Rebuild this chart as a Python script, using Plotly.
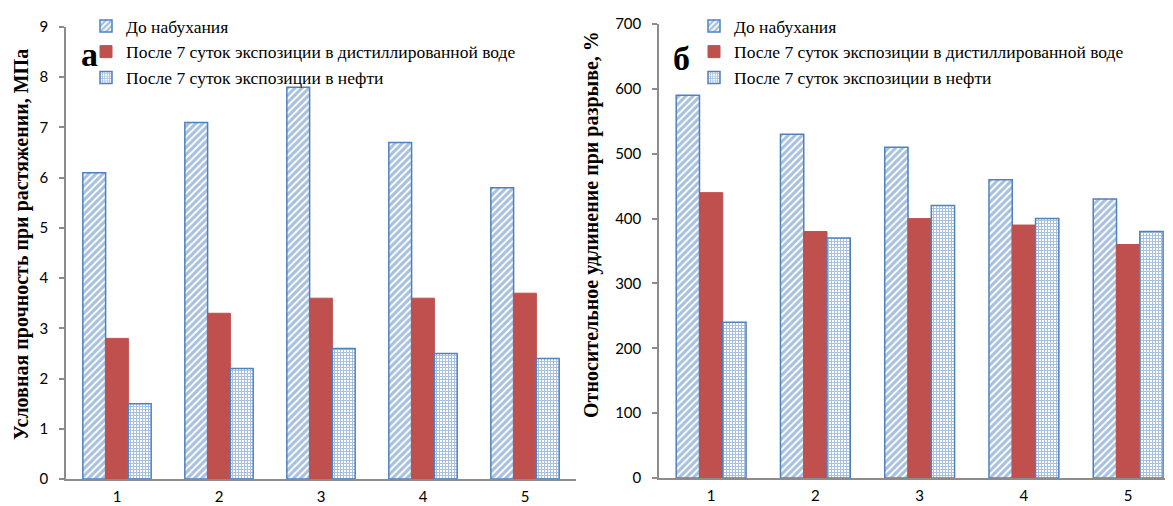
import plotly.graph_objects as go

categories = ["1", "2", "3", "4", "5"]
series_names = [
    "До набухания",
    "После 7 суток экспозиции в дистиллированной воде",
    "После 7 суток экспозиции в нефти",
]
strength_before = [6.1, 7.1, 7.8, 6.7, 5.8]
strength_water = [2.8, 3.3, 3.6, 3.6, 3.7]
strength_oil = [1.5, 2.2, 2.6, 2.5, 2.4]
elong_before = [590, 530, 510, 460, 430]
elong_water = [440, 380, 400, 390, 360]
elong_oil = [240, 370, 420, 400, 380]

left_title = "Условная прочность при растяжении, МПа"
right_title = "Относительное удлинение при разрыве, %"

BLUE = "#4F81BD"
RED = "#C0504D"
PAGE_W, PAGE_H = 1173, 506
OFF = 8  # default page body margin
W, H = PAGE_W - OFF, PAGE_H - OFF
SERIF = "Liberation Serif, Times New Roman, serif"

def fx(p):
    return (p - OFF) / W

def fy(p):
    return (H - (p - OFF)) / H

styles = [
    dict(marker=dict(color="white", line=dict(color=BLUE, width=1.5),
                     pattern=dict(shape="/", fgcolor=BLUE, bgcolor="white", size=5, solidity=0.6))),
    dict(marker=dict(color=RED, line=dict(color=RED, width=1))),
    dict(marker=dict(color="white", line=dict(color=BLUE, width=1.5),
                     pattern=dict(shape="+", fgcolor=BLUE, bgcolor="white", size=3, solidity=0.55))),
]

fig = go.Figure()
for i, vals in enumerate([strength_before, strength_water, strength_oil]):
    fig.add_trace(go.Bar(x=categories, y=vals, name=series_names[i], xaxis="x", yaxis="y",
                         legend="legend", **styles[i]))
for i, vals in enumerate([elong_before, elong_water, elong_oil]):
    fig.add_trace(go.Bar(x=categories, y=vals, name=series_names[i], xaxis="x2", yaxis="y2",
                         legend="legend2", **styles[i]))

tick_font = dict(family="Lato", size=15, color="#000000")
axis_common = dict(showline=True, linecolor="#8C8C8C", linewidth=1.5, showgrid=False,
                   zeroline=False, tickfont=tick_font, automargin=False)

def legend_cfg(x, y):
    return dict(x=x, y=y, font=dict(family=SERIF, size=17.5, color="black"),
                bgcolor="rgba(0,0,0,0)", xanchor="left", yanchor="top",
                itemwidth=30, tracegroupgap=0)

fig.update_layout(
    width=W, height=H,
    autosize=False,
    margin=dict(l=0, r=0, t=0, b=0, pad=0),
    paper_bgcolor="white", plot_bgcolor="white",
    barmode="group", bargap=0.33, bargroupgap=0,
    showlegend=True,
    xaxis=dict(domain=[fx(66), fx(576)], anchor="y", type="category",
               range=[-0.5, 4.5], ticks="", ticklabelstandoff=3, **axis_common),
    yaxis=dict(domain=[fy(479), fy(27)], anchor="x", range=[0, 9], dtick=1,
               ticks="outside", ticklen=5, tickcolor="#8C8C8C", tickwidth=1.5,
               ticklabelstandoff=8, **axis_common),
    xaxis2=dict(domain=[fx(659), 1.0], anchor="y2", type="category",
                range=[-0.5, 4.43], ticks="", ticklabelstandoff=3, **axis_common),
    yaxis2=dict(domain=[fy(478), fy(24)], anchor="x2", range=[0, 700], dtick=100,
                ticks="outside", ticklen=5, tickcolor="#8C8C8C", tickwidth=1.5,
                ticklabelstandoff=8, **axis_common),
    legend=legend_cfg(fx(86), 1.0),
    legend2=legend_cfg(fx(694), 1.0),
    annotations=[
        dict(text="<b>" + left_title + "</b>", x=fx(21), y=fy(245), xref="paper", yref="paper",
             textangle=-90, showarrow=False,
             font=dict(family=SERIF, size=20, color="black"),
             xanchor="center", yanchor="middle"),
        dict(text="<b>" + right_title + "</b>", x=fx(591), y=fy(225), xref="paper", yref="paper",
             textangle=-90, showarrow=False,
             font=dict(family=SERIF, size=20, color="black"),
             xanchor="center", yanchor="middle"),
        dict(text="<b>а</b>", x=fx(89), y=fy(55), xref="paper", yref="paper",
             showarrow=False, font=dict(family=SERIF, size=34, color="black"),
             xanchor="center", yanchor="middle"),
        dict(text="<b>б</b>", x=fx(681), y=fy(58), xref="paper", yref="paper",
             showarrow=False, font=dict(family=SERIF, size=34, color="black"),
             xanchor="center", yanchor="middle"),
    ],
)

fig.write_html("out.html")
